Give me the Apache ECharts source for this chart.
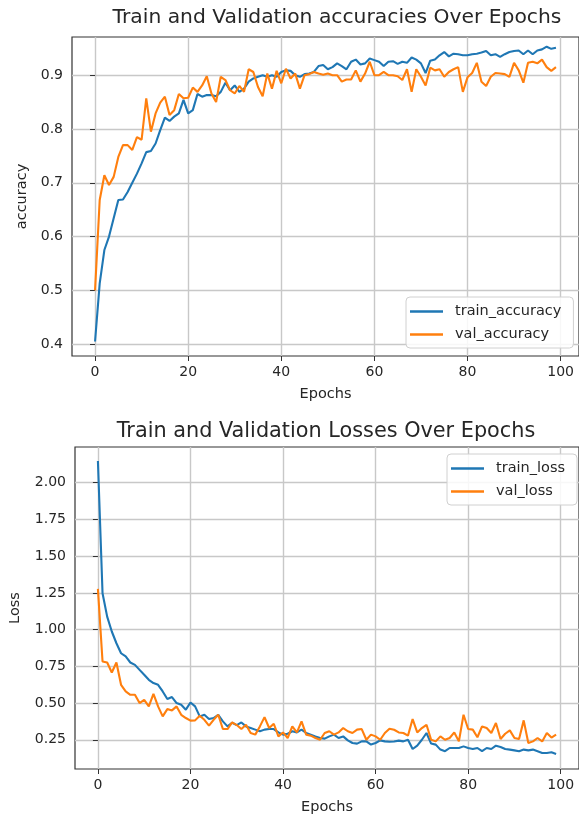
<!DOCTYPE html>
<html>
<head>
<meta charset="utf-8">
<title>Training curves</title>
<script src="https://cdn.jsdelivr.net/npm/echarts@6/dist/echarts.min.js"></script>
<style>
  html, body { margin: 0; padding: 0; background: #ffffff; }
  #chart { width: 579px; height: 819px; }
</style>
</head>
<body>
<div id="chart"></div>
<script>
// Epoch index for every recorded value (0 .. 99)
const epochs = Array.from({ length: 100 }, (_, i) => i);

const trainAccuracy = [
  0.405, 0.513, 0.575, 0.600, 0.634, 0.668, 0.669, 0.683, 0.700, 0.717,
  0.736, 0.757, 0.759, 0.773, 0.798, 0.821, 0.815, 0.823, 0.829, 0.854,
  0.829, 0.835, 0.865, 0.860, 0.863, 0.863, 0.861, 0.869, 0.886, 0.872,
  0.881, 0.869, 0.875, 0.888, 0.894, 0.897, 0.900, 0.897, 0.900, 0.897,
  0.906, 0.909, 0.908, 0.900, 0.897, 0.902, 0.903, 0.906, 0.917, 0.919,
  0.911, 0.915, 0.922, 0.917, 0.911, 0.925, 0.929, 0.920, 0.922, 0.931,
  0.928, 0.925, 0.917, 0.925, 0.926, 0.921, 0.925, 0.923, 0.933, 0.929,
  0.922, 0.904, 0.927, 0.929, 0.937, 0.943, 0.935, 0.940, 0.939, 0.937,
  0.937, 0.939, 0.940, 0.942, 0.945, 0.937, 0.939, 0.934, 0.939, 0.943,
  0.945, 0.946, 0.939, 0.946, 0.939, 0.946, 0.948, 0.953, 0.949, 0.951
];

const valAccuracy = [
  0.500, 0.668, 0.714, 0.696, 0.711, 0.748, 0.770, 0.770, 0.761, 0.785,
  0.780, 0.857, 0.795, 0.829, 0.849, 0.860, 0.826, 0.835, 0.865, 0.857,
  0.858, 0.877, 0.869, 0.881, 0.898, 0.866, 0.850, 0.897, 0.891, 0.872,
  0.866, 0.880, 0.869, 0.911, 0.906, 0.878, 0.861, 0.903, 0.875, 0.908,
  0.885, 0.912, 0.894, 0.903, 0.875, 0.900, 0.902, 0.906, 0.903, 0.901,
  0.903, 0.900, 0.900, 0.888, 0.892, 0.892, 0.909, 0.888, 0.903, 0.925,
  0.900, 0.900, 0.906, 0.900, 0.900, 0.898, 0.891, 0.911, 0.869, 0.911,
  0.897, 0.881, 0.914, 0.909, 0.911, 0.897, 0.906, 0.911, 0.915, 0.869,
  0.896, 0.904, 0.923, 0.888, 0.880, 0.897, 0.904, 0.903, 0.902, 0.897,
  0.923, 0.909, 0.886, 0.923, 0.925, 0.922, 0.929, 0.915, 0.908, 0.915
];

const trainLoss = [
  2.148, 1.247, 1.088, 0.987, 0.907, 0.839, 0.817, 0.776, 0.760, 0.726,
  0.692, 0.658, 0.636, 0.624, 0.579, 0.527, 0.541, 0.500, 0.488, 0.455,
  0.504, 0.477, 0.409, 0.420, 0.391, 0.398, 0.420, 0.375, 0.341, 0.366,
  0.350, 0.368, 0.341, 0.330, 0.319, 0.308, 0.319, 0.323, 0.323, 0.300,
  0.285, 0.291, 0.308, 0.300, 0.319, 0.296, 0.285, 0.273, 0.262, 0.258,
  0.273, 0.285, 0.262, 0.273, 0.246, 0.228, 0.224, 0.239, 0.239, 0.217,
  0.228, 0.246, 0.239, 0.236, 0.238, 0.244, 0.239, 0.250, 0.187, 0.210,
  0.250, 0.296, 0.224, 0.217, 0.183, 0.172, 0.194, 0.194, 0.194, 0.205,
  0.194, 0.187, 0.194, 0.172, 0.194, 0.187, 0.210, 0.201, 0.187, 0.183,
  0.178, 0.172, 0.183, 0.178, 0.183, 0.172, 0.160, 0.160, 0.165, 0.153
];

const valLoss = [
  1.277, 0.783, 0.776, 0.708, 0.776, 0.624, 0.579, 0.556, 0.556, 0.500,
  0.522, 0.477, 0.563, 0.477, 0.409, 0.459, 0.450, 0.477, 0.420, 0.398,
  0.380, 0.382, 0.414, 0.386, 0.346, 0.386, 0.420, 0.323, 0.323, 0.368,
  0.350, 0.323, 0.352, 0.296, 0.285, 0.341, 0.404, 0.330, 0.359, 0.273,
  0.300, 0.262, 0.341, 0.300, 0.375, 0.285, 0.278, 0.262, 0.250, 0.296,
  0.308, 0.285, 0.300, 0.330, 0.308, 0.296, 0.319, 0.323, 0.250, 0.285,
  0.273, 0.250, 0.296, 0.325, 0.318, 0.300, 0.296, 0.278, 0.391, 0.300,
  0.330, 0.352, 0.250, 0.239, 0.273, 0.250, 0.262, 0.300, 0.239, 0.420,
  0.323, 0.319, 0.267, 0.341, 0.330, 0.296, 0.364, 0.255, 0.291, 0.314,
  0.262, 0.255, 0.382, 0.228, 0.239, 0.262, 0.239, 0.296, 0.265, 0.285
];

const epochTicks = [0, 20, 40, 60, 80, 100];
const accuracyTicks = [0.4, 0.5, 0.6, 0.7, 0.8, 0.9];
const lossTicks = [0.25, 0.5, 0.75, 1.0, 1.25, 1.5, 1.75, 2.0];

const BLUE = '#1f77b4';
const ORANGE = '#ff7f0e';
const FONT = 'DejaVu Sans';
const TEXT = '#262626';

const pairs = (vals) => epochs.map((e, i) => [e, vals[i]]);

function xAxisFor(gridIndex) {
  return {
    type: 'value', gridIndex, min: -4.95, max: 103.95,
    name: 'Epochs', nameLocation: 'middle', nameGap: 31,
    nameTextStyle: { fontFamily: FONT, fontSize: 14.5, color: TEXT },
    axisLine: { show: false },
    axisTick: { show: true, inside: false, length: 5, customValues: epochTicks,
                lineStyle: { color: '#333', width: 1 } },
    axisLabel: { customValues: epochTicks, margin: 9, fontFamily: FONT, fontSize: 14, color: TEXT },
    splitLine: { show: true, lineStyle: { color: '#c8c8c8', width: 1.4 } }
  };
}

function yAxisFor(gridIndex, min, max, ticks, digits, name, gap) {
  return {
    type: 'value', gridIndex, min, max,
    name, nameLocation: 'middle', nameGap: gap,
    nameTextStyle: { fontFamily: FONT, fontSize: 14.5, color: TEXT },
    axisLine: { show: false },
    axisTick: { show: true, inside: false, length: 5, customValues: ticks,
                lineStyle: { color: '#333', width: 1 } },
    axisLabel: { customValues: ticks, margin: 9, fontFamily: FONT, fontSize: 14, color: TEXT,
                 formatter: (v) => Number(v).toFixed(digits) },
    splitLine: { show: true, lineStyle: { color: '#c8c8c8', width: 1.4 } }
  };
}

function lineSeries(name, vals, axisIdx, color, z) {
  return {
    name, type: 'line', xAxisIndex: axisIdx, yAxisIndex: axisIdx,
    data: pairs(vals), showSymbol: false, symbol: 'none', z,
    lineStyle: { color, width: 2.1 }, itemStyle: { color },
    animation: false
  };
}

function legendBox(names, left, top) {
  return {
    data: names, left, top, orient: 'vertical',
    icon: 'rect', itemWidth: 33, itemHeight: 2.4, itemGap: 6,
    padding: [6, 12, 5, 4],
    backgroundColor: 'rgba(255,255,255,0.85)',
    borderColor: '#d0d0d0', borderWidth: 1, borderRadius: 4,
    textStyle: { fontFamily: FONT, fontSize: 14.5, color: TEXT, lineHeight: 17, padding: [0, 0, 0, 7] },
    selectedMode: false
  };
}

const chart = echarts.init(document.getElementById('chart'), null, { renderer: 'canvas' });

chart.setOption({
  animation: false,
  backgroundColor: '#ffffff',
  graphic: [
    { type: 'text', x: 337, y: 18, style: {
        text: 'Train and Validation accuracies Over Epochs', x: 0, y: 0,
        align: 'center', verticalAlign: 'middle',
        fontFamily: FONT, fontSize: 20.3, fill: TEXT } },
    { type: 'text', x: 326, y: 432, style: {
        text: 'Train and Validation Losses Over Epochs', x: 0, y: 0,
        align: 'center', verticalAlign: 'middle',
        fontFamily: FONT, fontSize: 20.8, fill: TEXT } }
  ],
  grid: [
    { left: 72, top: 37, width: 508, height: 319, show: true,
      borderColor: '#333', borderWidth: 1.2, backgroundColor: 'transparent' },
    { left: 74, top: 447, width: 508, height: 322, show: true,
      borderColor: '#333', borderWidth: 1.2, backgroundColor: 'transparent' }
  ],
  xAxis: [xAxisFor(0), xAxisFor(1)],
  yAxis: [
    yAxisFor(0, 0.378, 0.971, accuracyTicks, 1, 'accuracy', 42),
    yAxisFor(1, 0.051, 2.243, lossTicks, 2, 'Loss', 52)
  ],
  legend: [
    legendBox(['train_accuracy', 'val_accuracy'], 406, 297),
    legendBox(['train_loss', 'val_loss'], 447, 454)
  ],
  series: [
    lineSeries('train_accuracy', trainAccuracy, 0, BLUE, 2),
    lineSeries('val_accuracy', valAccuracy, 0, ORANGE, 3),
    lineSeries('train_loss', trainLoss, 1, BLUE, 2),
    lineSeries('val_loss', valLoss, 1, ORANGE, 3)
  ]
});
</script>
</body>
</html>
